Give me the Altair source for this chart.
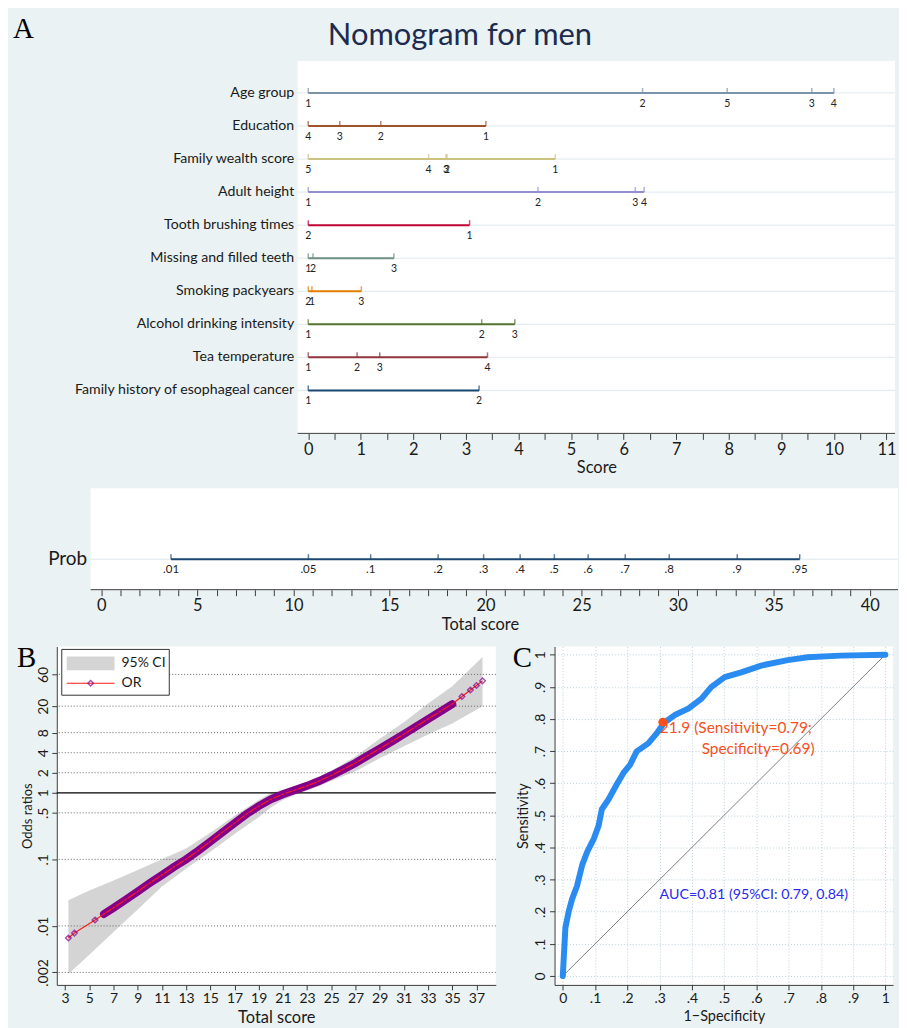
import altair as alt
import pandas as pd

FONT = "Lato"
SERIF = "Liberation Serif"
BG = "#EAF2F3"
INK = "#1a1a1a"
AXC = "#3a3a3a"

# ---------------- Panel A: nomogram ----------------
row_names = ["Age group", "Education", "Family wealth score", "Adult height",
             "Tooth brushing times", "Missing and filled teeth", "Smoking packyears",
             "Alcohol drinking intensity", "Tea temperature",
             "Family history of esophageal cancer"]
row_colors = ["#7b92a8", "#a0522d", "#cac27e", "#938dd2", "#c10534",
              "#6e8e84", "#e37e00", "#55752f", "#90353b", "#1a476f"]

age_levels = ["1", "2", "5", "3", "4"]
age_points = [0.0, 6.36, 7.97, 9.58, 10.0]
edu_levels = ["4", "3", "2", "1"]
edu_points = [0.0, 0.60, 1.38, 3.38]
wealth_levels = ["5", "4", "3", "2", "1"]
wealth_points = [0.0, 2.29, 2.62, 2.64, 4.70]
height_levels = ["1", "2", "3", "4"]
height_points = [0.0, 4.37, 6.22, 6.39]
brush_levels = ["2", "1"]
brush_points = [0.0, 3.07]
teeth_levels = ["1", "2", "3"]
teeth_points = [0.0, 0.09, 1.63]
smoke_levels = ["2", "1", "3"]
smoke_points = [0.0, 0.07, 1.01]
alcohol_levels = ["1", "2", "3"]
alcohol_points = [0.0, 3.30, 3.93]
tea_levels = ["1", "2", "3", "4"]
tea_points = [0.0, 0.93, 1.36, 3.41]
family_levels = ["1", "2"]
family_points = [0.0, 3.25]

score_ticks = [i / 2 for i in range(23)]

# ---------------- Probability scale ----------------
prob_labels = [".01", ".05", ".1", ".2", ".3", ".4", ".5", ".6", ".7", ".8", ".9", ".95"]
prob_points = [3.63, 10.78, 14.02, 17.53, 19.90, 21.80, 23.58, 25.34, 27.27, 29.56, 33.10, 36.35]
total_ticks = list(range(0, 41))

# ---------------- Panel B: odds ratios ----------------
or_score = [3.27, 3.77, 5.47, 6.21, 7, 8, 9, 10, 11, 12, 13, 14, 15, 16, 17, 18, 19, 20,
            21, 22, 23, 24, 25, 26, 27, 28, 29, 30, 31, 32, 33, 34, 35, 35.8, 36.5, 37.0, 37.5]
or_value = [0.0066, 0.0078, 0.0123, 0.0151, 0.0187, 0.0247, 0.033, 0.044, 0.058, 0.077,
            0.1, 0.135, 0.185, 0.255, 0.35, 0.48, 0.63, 0.8, 0.95, 1.1, 1.27, 1.5, 1.82,
            2.25, 2.8, 3.6, 4.6, 5.9, 7.6, 9.9, 12.8, 16.6, 21.5, 28, 35, 41, 48]
ci_score = [3.27, 5, 7, 9, 11, 13, 15, 17, 19, 20, 21, 22, 23, 24, 25, 27, 29, 31, 33, 35, 37.5]
ci_lower = [0.0019, 0.0037, 0.0081, 0.0176, 0.039, 0.072, 0.13, 0.24, 0.43, 0.6, 0.78,
            0.93, 1.08, 1.27, 1.5, 2.1, 3.3, 5.0, 7.5, 11, 20]
ci_upper = [0.0244, 0.034, 0.048, 0.069, 0.1, 0.145, 0.25, 0.45, 0.78, 0.98, 1.12, 1.28,
            1.48, 1.75, 2.15, 3.5, 6.5, 11.5, 22, 40, 110]
or_grid = [0.002, 0.01, 0.1, 0.5, 1, 2, 4, 8, 20, 60]
bx_ticks = list(range(3, 38, 2))

# ---------------- Panel C: ROC ----------------
roc_fpr = [0, 0.003, 0.008, 0.018, 0.029, 0.044, 0.06, 0.075, 0.096, 0.111, 0.121, 0.142,
           0.167, 0.188, 0.209, 0.229, 0.265, 0.291, 0.314, 0.347, 0.389, 0.43, 0.46,
           0.502, 0.553, 0.615, 0.697, 0.759, 0.861, 1.0]
roc_tpr = [0, 0.057, 0.15, 0.2, 0.24, 0.28, 0.345, 0.385, 0.427, 0.468, 0.519, 0.55,
           0.596, 0.632, 0.658, 0.699, 0.724, 0.755, 0.788, 0.812, 0.832, 0.863, 0.899,
           0.93, 0.945, 0.966, 0.983, 0.992, 0.997, 1.0]
diag_x = [0, 1]
diag_y = [0, 1]
cut_fpr = [0.31]
cut_tpr = [0.79]
cut_text1 = ["21.9 (Sensitivity=0.79;"]
cut_text2 = ["Specificity=0.69)"]
auc_pos_x = [0.30]
auc_pos_y = [0.252]
auc_text = ["AUC=0.81 (95%CI: 0.79, 0.84)"]
roc_ticks = [0, 0.1, 0.2, 0.3, 0.4, 0.5, 0.6, 0.7, 0.8, 0.9, 1]

# ====================================================
one = pd.DataFrame({"k": [0]})

level_labels = [age_levels, edu_levels, wealth_levels, height_levels, brush_levels,
                teeth_levels, smoke_levels, alcohol_levels, tea_levels, family_levels]
level_points = [age_points, edu_points, wealth_points, height_points, brush_points,
                teeth_points, smoke_points, alcohol_points, tea_points, family_points]
recs = []
for nm, labs, pts in zip(row_names, level_labels, level_points):
    for lb, p in zip(labs, pts):
        recs.append({"var": nm, "level": lb, "score": p})
nomo_df = pd.DataFrame(recs)
span_df = nomo_df.groupby("var", sort=False)["score"].agg(["min", "max"]).reset_index()
span_df.columns = ["var", "lo", "hi"]

int_expr = "datum.value % 1 === 0 ? format(datum.value, 'd') : ''"

# ---------- Row 1 ----------
W1, H1 = 842, 374
P1 = 242
sx1 = alt.Scale(domain=[-4.784, 11.163], nice=False, zero=False)
sy1 = alt.Scale(domain=row_names, paddingInner=0, paddingOuter=0.6325, align=0.367)
scol = alt.Scale(domain=row_names, range=row_colors)
ax1 = alt.Axis(values=score_ticks, labelExpr=int_expr,
               domain=False, grid=False, tickSize=6, tickWidth=1, labelFontSize=16.5,
               labelPadding=2, title="Score", titleFontSize=16.5, titlePadding=2,
               titleX=542, labelOverlap=False, labelFlush=False)
ay1 = alt.Axis(title=None, domain=False, ticks=False, tickSize=0, grid=False,
               labelFontSize=14.2, labelPadding=4, offset=-242, labelLimit=400)
X1 = alt.X("score:Q", scale=sx1, axis=ax1)
Y1 = alt.Y("var:N", scale=sy1, axis=ay1)
C1 = alt.Color("var:N", scale=scol, legend=None)

panel1 = alt.Chart(one).mark_rect(fill="white").encode(
    x=alt.value(P1), x2=alt.value(W1), y=alt.value(0), y2=alt.value(H1))
grid1 = alt.Chart(pd.DataFrame({"var": row_names})).mark_rule(
    color="#dde8ec", strokeWidth=1).encode(x=alt.value(P1), x2=alt.value(W1), y=Y1)
span1 = alt.Chart(span_df).mark_rule(strokeWidth=2).encode(
    x=alt.X("lo:Q", scale=sx1, axis=ax1), x2="hi:Q", y=Y1, color=C1)
tick1 = alt.Chart(nomo_df).mark_tick(thickness=1.5, size=5, yOffset=-2.5).encode(
    x=X1, y=Y1, color=C1)
lab1 = alt.Chart(nomo_df).mark_text(fontSize=10.5, dy=11, font=FONT, color="#222").encode(
    x=X1, y=Y1, text="level:N")
base1 = alt.Chart(one).mark_rule(color=AXC, strokeWidth=1).encode(
    x=alt.value(P1), x2=alt.value(W1), y=alt.value(H1))
letterA = alt.Chart(pd.DataFrame({"t": ["A"]})).mark_text(
    font=SERIF, fontSize=29, align="left", baseline="alphabetic", color="black").encode(
    text="t:N", x=alt.value(-44), y=alt.value(-23))
titleA = alt.Chart(pd.DataFrame({"t": ["Nomogram for men"]})).mark_text(
    font=FONT, fontSize=31, align="center", baseline="alphabetic", color="#1d2b50").encode(
    text="t:N", x=alt.value(405), y=alt.value(-16))

row1 = alt.layer(panel1, grid1, span1, tick1, lab1, base1, letterA, titleA).properties(
    width=W1, height=H1)

# ---------- Row 2 ----------
W2, H2 = 845, 102
P2 = 34
sx2 = alt.Scale(domain=[-2.316, 41.466], nice=False, zero=False)
sy2 = alt.Scale(domain=["Prob"], paddingInner=0, paddingOuter=1, align=0.8)
ax2 = alt.Axis(values=total_ticks, labelExpr="datum.value % 5 === 0 ? format(datum.value, 'd') : ''",
               domain=False, grid=False, tickSize=6, tickWidth=1, labelFontSize=16.5,
               labelPadding=2, title="Total score", titleFontSize=16.5, titlePadding=2,
               titleX=425, labelOverlap=False, labelFlush=False)
ay2 = alt.Axis(title=None, domain=False, ticks=False, tickSize=0, grid=False,
               labelFontSize=19, labelPadding=4, offset=-34)
prob_df = pd.DataFrame({"var": "Prob", "level": prob_labels, "score": prob_points})
prob_span = pd.DataFrame({"var": ["Prob"], "lo": [min(prob_points)], "hi": [max(prob_points)]})
X2 = alt.X("score:Q", scale=sx2, axis=ax2)
Y2 = alt.Y("var:N", scale=sy2, axis=ay2)
NAVY = "#1a476f"

panel2 = alt.Chart(one).mark_rect(fill="white").encode(
    x=alt.value(P2), x2=alt.value(W2), y=alt.value(0), y2=alt.value(H2))
grid2 = alt.Chart(pd.DataFrame({"var": ["Prob"]})).mark_rule(
    color="#dde8ec", strokeWidth=1).encode(x=alt.value(P2), x2=alt.value(W2), y=Y2)
span2 = alt.Chart(prob_span).mark_rule(strokeWidth=2, color=NAVY).encode(
    x=alt.X("lo:Q", scale=sx2, axis=ax2), x2="hi:Q", y=Y2)
tick2 = alt.Chart(prob_df).mark_tick(thickness=1.5, size=5, yOffset=-2.5, color=NAVY).encode(
    x=X2, y=Y2)
lab2 = alt.Chart(prob_df).mark_text(fontSize=11.5, dy=11, font=FONT, color="#222").encode(
    x=X2, y=Y2, text="level:N")
base2 = alt.Chart(one).mark_rule(color=AXC, strokeWidth=1).encode(
    x=alt.value(P2), x2=alt.value(W2), y=alt.value(H2))
row2 = alt.layer(panel2, grid2, span2, tick2, lab2, base2).properties(width=W2, height=H2)

# ---------- Panel B ----------
WB, HB = 441, 340
sxB = alt.Scale(domain=[2.31, 38.6], nice=False, zero=False)
syB = alt.Scale(type="log", domain=[0.0013, 158], nice=False)
frac_expr = ("datum.value > 0 && datum.value < 1 ? slice(format(datum.value, '~g'), 1)"
             " : format(datum.value, '~g')")
axB = alt.Axis(values=bx_ticks, title="Total score", grid=False, tickSize=5,
               labelFontSize=14, labelPadding=2, titleFontSize=16.5, titlePadding=4,
               labelFlush=False, labelOverlap=False)
ayB = alt.Axis(values=or_grid, labelExpr=frac_expr, labelAngle=270, labelAlign="center",
               labelBaseline="bottom", title="Odds ratios", titleFontSize=13,
               titlePadding=2, tickSize=5, labelPadding=1, grid=False, labelFontSize=14,
               labelFlush=False, labelOverlap=False)
or_df = pd.DataFrame({"score": or_score, "or": or_value})
ci_df = pd.DataFrame({"score": ci_score, "lo": ci_lower, "hi": ci_upper})
grid_df = pd.DataFrame({"g": or_grid})
XB = alt.X("score:Q", scale=sxB, axis=axB)
YB = alt.Y("or:Q", scale=syB, axis=ayB)
RED = "#ff1a1a"
PURPLE = "#85008a"
GRAY = "#d4d4d4"

bandB = alt.Chart(ci_df).mark_area(color=GRAY, opacity=1).encode(
    x=XB, y=alt.Y("lo:Q", scale=syB, axis=ayB), y2="hi:Q")
dotsB = alt.Chart(grid_df).transform_filter("datum.g != 1").mark_rule(
    color="#666666", strokeDash=[1, 2], strokeWidth=1).encode(
    y=alt.Y("g:Q", scale=syB, axis=ayB))
oneB = alt.Chart(grid_df).transform_filter("datum.g == 1").mark_rule(
    color="black", strokeWidth=1.3).encode(y=alt.Y("g:Q", scale=syB, axis=ayB))
thickB = alt.Chart(or_df).transform_filter("datum.score >= 6.2 && datum.score <= 35.6").mark_line(
    color=PURPLE, strokeWidth=8, strokeCap="round").encode(x=XB, y=YB)
lineB = alt.Chart(or_df).mark_line(color=RED, strokeWidth=1.2).encode(x=XB, y=YB)
ptsB = alt.Chart(or_df).mark_point(shape="diamond", filled=False, size=32, color=PURPLE,
                                   strokeWidth=1.4).encode(x=XB, y=YB)
legBox = alt.Chart(one).mark_rect(fill="white", stroke="#333", strokeWidth=1).encode(
    x=alt.value(5), x2=alt.value(113), y=alt.value(3), y2=alt.value(49))
legSw = alt.Chart(one).mark_rect(fill=GRAY).encode(
    x=alt.value(10), x2=alt.value(58), y=alt.value(10), y2=alt.value(24))
legLn = alt.Chart(one).mark_rule(color=RED, strokeWidth=1.2).encode(
    x=alt.value(10), x2=alt.value(58), y=alt.value(37))
legPt = alt.Chart(one).mark_point(shape="diamond", filled=False, size=32, color=PURPLE,
                                  strokeWidth=1.4).encode(x=alt.value(34), y=alt.value(37))
legT1 = alt.Chart(pd.DataFrame({"t": ["95% CI"]})).mark_text(
    align="left", baseline="middle", fontSize=14, font=FONT, color=INK).encode(
    text="t:N", x=alt.value(65), y=alt.value(17))
legT2 = alt.Chart(pd.DataFrame({"t": ["OR"]})).mark_text(
    align="left", baseline="middle", fontSize=14, font=FONT, color=INK).encode(
    text="t:N", x=alt.value(65), y=alt.value(37))
letterB = alt.Chart(pd.DataFrame({"t": ["B"]})).mark_text(
    font=SERIF, fontSize=29, align="left", baseline="alphabetic", color="black").encode(
    text="t:N", x=alt.value(-40), y=alt.value(21))

chartB = alt.layer(bandB, dotsB, oneB, thickB, lineB, ptsB, legBox, legSw, legLn, legPt,
                   legT1, legT2, letterB).properties(
    width=WB, height=HB, view=alt.ViewBackground(fill="white", stroke=None))

# ---------- Panel C ----------
WC, HC = 340, 340
sxC = alt.Scale(domain=[-0.0256, 1.0237], nice=False, zero=False)
syC = alt.Scale(domain=[-0.0277, 1.0256], nice=False, zero=False)
GRIDC = "#b7d0da"
axC = alt.Axis(values=roc_ticks, labelExpr=frac_expr, title="1\u2212Specificity",
               grid=True, gridDash=[1, 2], gridColor=GRIDC, gridWidth=1, tickSize=5,
               labelFontSize=14, labelPadding=2, titleFontSize=14.5, titlePadding=4,
               labelFlush=False, labelOverlap=False)
ayC = alt.Axis(values=roc_ticks, labelExpr=frac_expr, labelAngle=270, labelAlign="center",
               labelBaseline="bottom", title="Sensitivity", grid=True, gridDash=[1, 2],
               gridColor=GRIDC, gridWidth=1, tickSize=5, labelFontSize=14, labelPadding=2,
               titleFontSize=14.5, titlePadding=3, labelFlush=False, labelOverlap=False)
XC = alt.X("x:Q", scale=sxC, axis=axC)
YC = alt.Y("y:Q", scale=syC, axis=ayC)
ORANGE = "#f5501e"
BLUE = "#2a8cf0"

diagC = alt.Chart(pd.DataFrame({"x": diag_x, "y": diag_y})).mark_line(
    color="#808080", strokeWidth=1).encode(x=XC, y=YC)
rocC = alt.Chart(pd.DataFrame({"x": roc_fpr, "y": roc_tpr})).mark_line(
    color=BLUE, strokeWidth=6, strokeJoin="round", strokeCap="round").encode(x=XC, y=YC)
cutC = alt.Chart(pd.DataFrame({"x": cut_fpr, "y": cut_tpr})).mark_circle(
    size=80, color=ORANGE, opacity=1).encode(x=XC, y=YC)
cutT1 = alt.Chart(pd.DataFrame({"x": cut_fpr, "y": cut_tpr, "t": cut_text1})).mark_text(
    align="left", baseline="middle", dx=-3, dy=6, fontSize=15.5, font=FONT, color=ORANGE).encode(
    x=XC, y=YC, text="t:N")
cutT2 = alt.Chart(pd.DataFrame({"x": cut_fpr, "y": cut_tpr, "t": cut_text2})).mark_text(
    align="left", baseline="middle", dx=39, dy=27, fontSize=15.5, font=FONT, color=ORANGE).encode(
    x=XC, y=YC, text="t:N")
aucT = alt.Chart(pd.DataFrame({"x": auc_pos_x, "y": auc_pos_y, "t": auc_text})).mark_text(
    align="left", baseline="middle", fontSize=14.3, font=FONT, color="#2a2af0").encode(
    x=XC, y=YC, text="t:N")
letterC = alt.Chart(pd.DataFrame({"t": ["C"]})).mark_text(
    font=SERIF, fontSize=29, align="left", baseline="alphabetic", color="black").encode(
    text="t:N", x=alt.value(-42), y=alt.value(21))

chartC = alt.layer(diagC, rocC, cutC, cutT1, cutT2, aucT, letterC).properties(
    width=WC, height=HC, view=alt.ViewBackground(fill="white", stroke=None))

row3 = alt.hconcat(chartB, chartC, spacing=16)

chart = alt.vconcat(row1, row2, row3, spacing=12).properties(
    background=BG, padding={"left": 5, "top": 5, "right": 0, "bottom": 0}
).configure_view(stroke=None).configure_axis(
    labelFont=FONT, titleFont=FONT, labelColor=INK, titleColor=INK,
    titleFontWeight="normal", domainColor=AXC, tickColor=AXC)

chart.save("out.html", embed_options={"renderer": "svg", "actions": False})
